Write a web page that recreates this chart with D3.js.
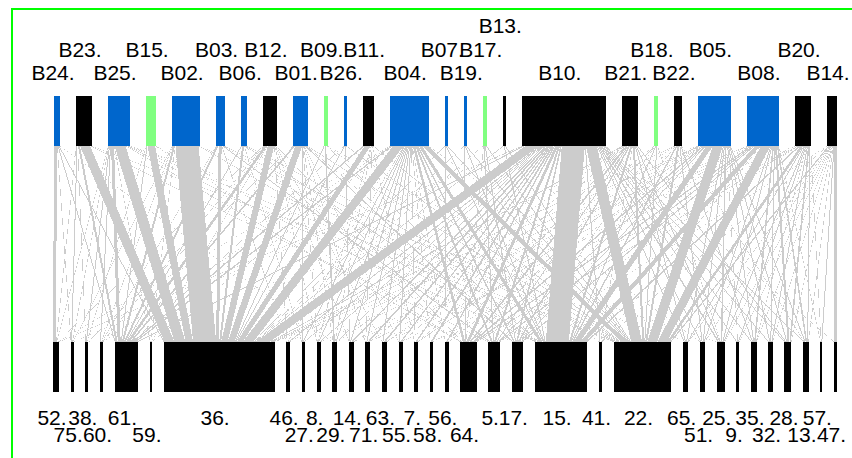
<!DOCTYPE html>
<html><head><meta charset="utf-8">
<script src="https://cdn.jsdelivr.net/npm/d3@7"></script>
<style>html,body{margin:0;padding:0;background:#fff;} svg{display:block}</style>
</head><body>
<svg id="chart" width="852" height="458"></svg>
<script>
// ---- data ----
const higher = ["B24.","B23.","B25.","B15.","B02.","B03.","B06.","B12.","B01.","B09.","B26.","B11.","B04.","B07.","B19.","B17.","B13.","B10.","B21.","B18.","B22.","B05.","B08.","B20.","B14."];
const higherGroup = ["a","b","a","c","a","a","a","b","a","c","a","b","a","a","a","c","b","b","b","c","b","a","a","b","b"];
const lower = ["52.","75.","38.","60.","61.","59.","36.","46.","27.","8.","29.","14.","71.","63.","55.","7.","58.","56.","64.","5.","17.","15.","41.","22.","65.","51.","25.","9.","35.","32.","28.","13.","57.","47."];

// interactions per higher species: [lower, value]
const webB24 = [["52.",3],["75.",0.5],["61.",1],["36.",1],["29.",0.5]];
const webB23 = [["52.",0.5],["75.",1],["38.",0.5],["61.",2],["36.",10],["5.",1],["22.",1]];
const webB25 = [["52.",0.5],["75.",0.5],["38.",1],["60.",1],["61.",3],["59.",0.5],["36.",11],["64.",1],["15.",1],["22.",1],["65.",0.5],["25.",1]];
const webB15 = [["38.",0.5],["61.",1],["36.",7.5],["64.",0.5],["17.",0.5]];
const webB02 = [["75.",0.5],["60.",0.5],["61.",2],["59.",0.5],["36.",23],["15.",1],["22.",0.5]];
const webB03 = [["60.",0.5],["61.",2],["36.",3],["46.",0.5],["5.",1.5],["15.",0.5],["22.",1]];
const webB06 = [["61.",1],["36.",2],["27.",0.5],["64.",0.5],["15.",1],["22.",1]];
const webB12 = [["52.",0.5],["60.",0.5],["61.",3],["59.",0.5],["36.",6.5],["46.",0.5],["8.",0.5],["14.",0.5],["63.",0.5],["64.",0.5]];
const webB01 = [["38.",0.5],["61.",2],["36.",7],["27.",0.5],["8.",0.5],["29.",0.5],["71.",0.5],["55.",0.5],["17.",1.5],["15.",0.5],["22.",1]];
const webB09 = [["36.",1],["29.",1.5],["15.",0.5],["41.",0.5],["65.",0.5]];
const webB26 = [["61.",0.5],["36.",1],["14.",0.5],["22.",1]];
const webB11 = [["61.",2],["36.",6],["8.",0.5],["29.",0.5],["71.",0.5],["7.",0.5],["22.",1]];
const webB04 = [["52.",0.5],["60.",0.5],["61.",2],["59.",0.5],["36.",10.5],["46.",0.5],["27.",1],["8.",1],["29.",1],["14.",1],["71.",1],["63.",1],["55.",1],["7.",0.5],["58.",0.5],["56.",0.5],["64.",2.5],["5.",2],["17.",1.5],["15.",3.5],["22.",6],["51.",0.5]];
const webB07 = [["36.",0.5],["56.",0.5],["15.",1],["22.",1]];
const webB19 = [["36.",0.5],["64.",0.5],["15.",1],["22.",1]];
const webB17 = [["36.",0.5],["64.",0.5],["5.",1],["17.",1],["22.",1]];
const webB13 = [["36.",1],["15.",1],["22.",1]];
const webB10 = [["52.",1],["75.",0.5],["61.",2],["36.",14],["46.",1.5],["27.",1],["8.",1],["29.",0.5],["14.",1.5],["71.",2],["63.",2],["55.",1.5],["7.",1.5],["58.",2],["56.",1.5],["64.",3],["5.",2],["17.",1.5],["15.",23],["41.",1],["22.",11],["65.",1],["51.",1],["25.",1.5],["9.",1],["35.",1],["32.",1],["28.",1],["13.",1],["47.",0.5]];
const webB21 = [["36.",1.5],["46.",0.5],["29.",0.5],["71.",0.5],["55.",0.5],["56.",0.5],["64.",2],["5.",1],["17.",1.5],["15.",2],["41.",0.5],["22.",2],["65.",1],["25.",1],["28.",1]];
const webB18 = [["7.",0.5],["64.",0.5],["17.",0.5],["15.",1],["22.",1],["25.",0.5]];
const webB22 = [["36.",1],["63.",0.5],["17.",0.5],["15.",1.5],["22.",2],["51.",1],["35.",1],["13.",0.5]];
const webB05 = [["36.",1],["38.",0.5],["27.",0.5],["14.",0.5],["63.",0.5],["7.",1],["56.",0.5],["64.",2],["5.",1],["17.",1],["15.",6.5],["22.",10],["65.",1],["51.",1],["25.",1.5],["9.",0.5],["35.",1],["32.",1],["28.",1],["13.",1]];
const webB08 = [["36.",1],["8.",0.5],["71.",0.5],["55.",0.5],["58.",0.5],["64.",2],["5.",1.5],["17.",1.5],["15.",5.5],["41.",0.5],["22.",9.5],["51.",1],["25.",1],["35.",1.5],["32.",1],["28.",2],["13.",1.5],["57.",0.5]];
const webB20 = [["36.",0.5],["14.",0.5],["63.",0.5],["58.",0.5],["64.",1],["5.",0.5],["15.",2],["22.",3],["65.",1],["25.",1],["9.",1],["35.",0.5],["32.",1],["28.",1.5],["13.",1],["57.",0.5]];
const webB14 = [["17.",0.5],["41.",0.5],["22.",1.5],["65.",0.5],["51.",0.5],["25.",0.5],["9.",0.5],["35.",0.5],["32.",0.5],["28.",0.5],["13.",0.5],["57.",1],["47.",2.5]];
const webRows = [webB24,webB23,webB25,webB15,webB02,webB03,webB06,webB12,webB01,webB09,webB26,webB11,webB04,webB07,webB19,webB17,webB13,webB10,webB21,webB18,webB22,webB05,webB08,webB20,webB14];

// ---- layout ----
const higherLabelRow = [0,1,0,1,0,1,0,1,0,1,0,1,0,1,0,1,2,0,0,1,0,1,0,1,0];
const lowerLabelRow  = [0,1,0,1,0,1,0,0,1,0,1,0,1,0,1,0,1,0,1,0,0,0,0,0,0,1,0,1,0,1,0,1,0,1];
const groupColor = {a:"#0066CC", b:"#000000", c:"#80FF80"};

const links = [];
webRows.forEach((row,i)=>row.forEach(([l,v])=>links.push({h:higher[i], l, v})));

const hTot = new Map(higher.map(h=>[h,0]));
const lTot = new Map(lower.map(l=>[l,0]));
links.forEach(d=>{hTot.set(d.h,hTot.get(d.h)+d.v); lTot.set(d.l,lTot.get(d.l)+d.v);});
const T = d3.sum(links,d=>d.v);

const x0 = 54, x1 = 837, gapTopPx = 16;
const k = ((x1-x0) - (higher.length-1)*gapTopPx)/T;
const gH = gapTopPx/k;
const gL = (((x1)-(x0-1))/k - T)/(lower.length-1);
const xTop = d3.scaleLinear().domain([0, T + (higher.length-1)*gH]).range([x0, x1]);
const xLow = d3.scaleLinear().domain([0, T + (lower.length-1)*gL]).range([x0-1, x1]);

const hPos = new Map(); let c=0;
higher.forEach(h=>{hPos.set(h,c); c += hTot.get(h) + gH;});
const lPos = new Map(); c=0;
lower.forEach(l=>{lPos.set(l,c); c += lTot.get(l) + gL;});

const yTop0=96, yTop1=146, yLow0=342, yLow1=392;

const hOff = new Map(higher.map(h=>[h,0]));
const lOff = new Map(lower.map(l=>[l,0]));
const li = new Map(lower.map((l,i)=>[l,i]));
const hi = new Map(higher.map((h,i)=>[h,i]));
links.slice().sort((a,b)=>hi.get(a.h)-hi.get(b.h) || li.get(a.l)-li.get(b.l))
  .forEach(d=>{d.t0 = hPos.get(d.h)+hOff.get(d.h); hOff.set(d.h, hOff.get(d.h)+d.v); d.t1 = d.t0+d.v;});
links.slice().sort((a,b)=>li.get(a.l)-li.get(b.l) || hi.get(a.h)-hi.get(b.h))
  .forEach(d=>{d.b0 = lPos.get(d.l)+lOff.get(d.l); lOff.set(d.l, lOff.get(d.l)+d.v); d.b1 = d.b0+d.v;});

const svg = d3.select("#chart");
svg.append("rect").attr("x",12).attr("y",9).attr("width",900).attr("height",500)
  .attr("fill","none").attr("stroke","#00FF00").attr("stroke-width",2);

svg.append("g").attr("shape-rendering","crispEdges").selectAll("polygon").data(links).join("polygon")
  .attr("points",d=>[[xTop(d.t0),yTop1],[xTop(d.t1),yTop1],[xLow(d.b1),yLow0],[xLow(d.b0),yLow0]].map(p=>p.join(",")).join(" "))
  .attr("fill","#CCCCCC");

svg.append("g").attr("shape-rendering","crispEdges").selectAll("rect").data(higher).join("rect")
  .attr("x",h=>xTop(hPos.get(h))).attr("y",yTop0)
  .attr("width",h=>xTop(hPos.get(h)+hTot.get(h))-xTop(hPos.get(h))).attr("height",yTop1-yTop0)
  .attr("fill",(h,i)=>groupColor[higherGroup[i]]);

svg.append("g").attr("shape-rendering","crispEdges").selectAll("rect").data(lower).join("rect")
  .attr("x",l=>xLow(lPos.get(l))).attr("y",yLow0)
  .attr("width",l=>xLow(lPos.get(l)+lTot.get(l))-xLow(lPos.get(l))).attr("height",yLow1-yLow0)
  .attr("fill","#000");

const font = "'Liberation Sans', Arial, sans-serif";
svg.append("g").selectAll("text").data(higher).join("text")
  .attr("x",h=>xTop(hPos.get(h)+hTot.get(h)/2)-4)
  .attr("y",(h,i)=>80 - higherLabelRow[i]*23.5)
  .attr("text-anchor","middle").attr("font-family",font).attr("font-size",21).attr("fill","#000")
  .text(h=>h);
svg.append("g").selectAll("text").data(lower).join("text")
  .attr("x",l=>xLow(lPos.get(l)+lTot.get(l)/2)-4)
  .attr("y",(l,i)=>425 + lowerLabelRow[i]*17)
  .attr("text-anchor","middle").attr("font-family",font).attr("font-size",21).attr("fill","#000")
  .text(l=>l);
</script>
</body></html>
